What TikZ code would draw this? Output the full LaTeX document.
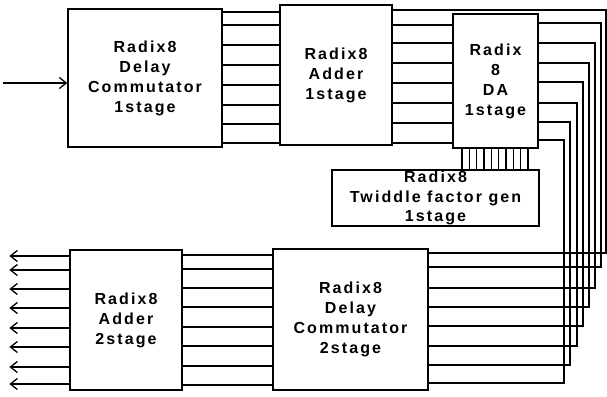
\documentclass[tikz,border=0pt]{standalone}
\usepackage{fontspec}
\setmainfont{Liberation Sans}[LetterSpace=13]
\usetikzlibrary{arrows.meta}

\begin{document}
\begin{tikzpicture}[x=1pt,y=-1pt,line width=1.3pt,
  blk/.style={draw,align=center,inner sep=0pt,font=\fontsize{16}{20}\selectfont\bfseries},
  barb/.style={-{Straight Barb[length=7pt,width=11pt]}}]
  \useasboundingbox (0,0) rectangle (607,396);
  % first stage
  \node[blk,minimum width=154pt,minimum height=138pt] (dcone) at (145,78) {Radix8\\Delay\\Commutator\\1stage};
  \node[blk,minimum width=112pt,minimum height=140pt] (addone) at (336,75) {Radix8\\Adder\\1stage};
  \node[blk,minimum width=85pt,minimum height=134pt] (daone) at (495.5,81) {Radix\\8\\DA\\1stage};
  \node[blk,minimum width=207pt,minimum height=56pt,font=\fontsize{16}{19.5}\selectfont\bfseries] (twid) at (435.5,198) {Radix8\\Twiddle factor gen\\1stage};
  % second stage
  \node[blk,minimum width=112pt,minimum height=140pt] (addtwo) at (126,320) {Radix8\\Adder\\2stage};
  \node[blk,minimum width=155pt,minimum height=141pt] (dctwo) at (350.5,319.5) {Radix8\\Delay\\Commutator\\2stage};
  % input
  \coordinate (in) at (3,83);
  \draw[barb] (in) -- (dcone.west |- in);
  % buses
  \foreach \y in {12,25,45,65,85,105,124,143}
    \draw (dcone.east |- 0,\y) -- (addone.west |- 0,\y);
  \foreach \y in {25,43,63,83,103,123,143}
    \draw (addone.east |- 0,\y) -- (daone.west |- 0,\y);
  \foreach \x in {462,469.33,...,529}
    \draw (daone.south -| \x,0) -- (twid.north -| \x,0);
  % feedback to second stage
  \foreach \src/\ya/\xv/\yb in {addone/10/606/253, daone/23/601/267, daone/43/595/288, daone/63/589/307,
      daone/82/583/326, daone/103/577/346, daone/122/570/365, daone/140/564/383}
    \draw (\src.east |- 0,\ya) -| (\xv,\yb) -- (dctwo.east |- 0,\yb);
  \foreach \y in {255,269,288,307,327,346,366,385}
    \draw (dctwo.west |- 0,\y) -- (addtwo.east |- 0,\y);
  % outputs
  \foreach \y in {256,270,289,308,328,347,367,384}
    \draw[barb] (addtwo.west |- 0,\y) -- ++(-60,0);
\end{tikzpicture}
\end{document}
